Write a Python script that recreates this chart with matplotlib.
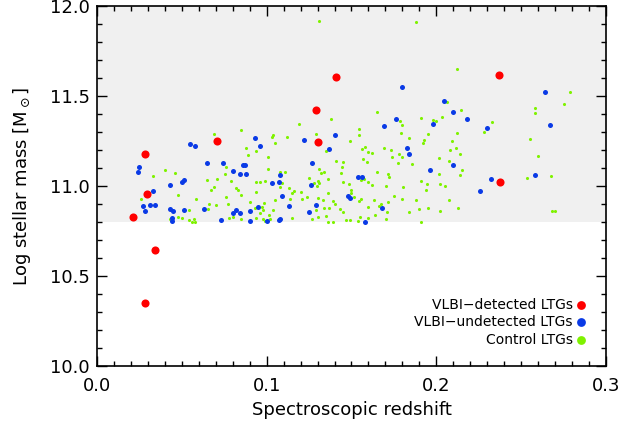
import matplotlib
matplotlib.use("Agg")
import matplotlib.pyplot as plt
from matplotlib.ticker import MultipleLocator

# ------------------------------------------------------------
# Data
# ------------------------------------------------------------

det_z = [0.021, 0.028, 0.0295, 0.0285, 0.034, 0.0705, 0.129, 0.130, 0.141, 0.237, 0.2375]
det_m = [10.83, 11.18, 10.955, 10.352, 10.646, 11.25, 11.424, 11.246, 11.606, 11.618, 11.024]

undet_z = [0.055, 0.058, 0.065, 0.074, 0.025, 0.024, 0.051, 0.050, 0.043, 0.033,
           0.031, 0.034, 0.027, 0.028, 0.043, 0.045, 0.051, 0.063, 0.044, 0.044,
           0.073, 0.093, 0.096, 0.122, 0.140, 0.137, 0.127, 0.086, 0.087, 0.080,
           0.084, 0.088, 0.108, 0.103, 0.107, 0.126, 0.109, 0.148, 0.149, 0.113,
           0.095, 0.129, 0.082, 0.080, 0.084, 0.090, 0.125, 0.090, 0.100, 0.107,
           0.108, 0.169, 0.198, 0.218, 0.183, 0.184, 0.210, 0.196, 0.154, 0.156,
           0.226, 0.168, 0.158, 0.230, 0.267, 0.232, 0.258, 0.180, 0.264, 0.2045,
           0.210, 0.176]
undet_m = [11.233, 11.224, 11.126, 11.126, 11.104, 11.076, 11.033, 11.020, 11.006, 10.970,
           10.896, 10.892, 10.887, 10.861, 10.874, 10.861, 10.867, 10.870, 10.820, 10.806,
           10.813, 11.268, 11.224, 11.256, 11.283, 11.207, 11.126, 11.118, 11.118, 11.085,
           11.065, 11.068, 11.061, 11.018, 11.022, 11.007, 10.944, 10.944, 10.931, 10.887,
           10.881, 10.896, 10.867, 10.848, 10.848, 10.859, 10.856, 10.806, 10.807, 10.813,
           10.815, 11.331, 11.344, 11.370, 11.209, 11.180, 11.117, 11.087, 11.048, 11.048,
           10.972, 10.878, 10.802, 11.322, 11.337, 11.039, 11.061, 11.548, 11.520, 11.474,
           11.409, 11.370]

ctrl_z = [0.069, 0.076, 0.040, 0.046, 0.033, 0.065, 0.071, 0.069, 0.067, 0.048,
          0.0585, 0.026, 0.076, 0.066, 0.070, 0.0655, 0.054, 0.048, 0.050, 0.043,
          0.054, 0.057, 0.056, 0.058,
          0.119, 0.085, 0.1035, 0.103, 0.112, 0.129, 0.105, 0.149, 0.088, 0.094,
          0.135, 0.089, 0.101, 0.141, 0.145, 0.1445, 0.101, 0.131, 0.132, 0.134,
          0.108, 0.111, 0.144, 0.0755, 0.079, 0.094, 0.096, 0.099, 0.109, 0.125,
          0.130, 0.128, 0.131, 0.1295, 0.136, 0.145, 0.1485, 0.082, 0.083, 0.108,
          0.113, 0.116, 0.115, 0.120, 0.0935, 0.085, 0.1495, 0.150, 0.136, 0.124,
          0.121, 0.130, 0.133, 0.139, 0.105, 0.114, 0.090, 0.0985, 0.097, 0.077,
          0.140, 0.1335, 0.137, 0.143, 0.145, 0.129, 0.093, 0.098, 0.096, 0.1035,
          0.1015, 0.094, 0.098, 0.078, 0.080, 0.085, 0.115, 0.127, 0.130, 0.135,
          0.136, 0.139, 0.1465, 0.149, 0.102, 0.099,
          0.1546, 0.1546, 0.1795, 0.179, 0.184, 0.195, 0.1925, 0.192, 0.209, 0.212,
          0.158, 0.156, 0.1595, 0.162, 0.169, 0.173, 0.178, 0.1795, 0.174, 0.208,
          0.2115, 0.214, 0.157, 0.159, 0.1775, 0.1855, 0.2015, 0.2075, 0.215, 0.214,
          0.165, 0.1715, 0.172, 0.2015, 0.1555, 0.1575, 0.160, 0.191, 0.1945, 0.202,
          0.205, 0.162, 0.1705, 0.194, 0.1805, 0.1515, 0.175, 0.1555, 0.1545, 0.163,
          0.180, 0.188, 0.2075, 0.1675, 0.166, 0.1715, 0.160, 0.195, 0.190, 0.213,
          0.171, 0.184, 0.202, 0.164, 0.155, 0.1595, 0.1705, 0.154, 0.191,
          0.233, 0.228, 0.255, 0.260, 0.2535, 0.2675, 0.268, 0.270,
          0.131, 0.138, 0.188, 0.212, 0.279, 0.2755, 0.206, 0.2145, 0.165, 0.258,
          0.258, 0.1785, 0.191, 0.198, 0.200, 0.2035]
ctrl_m = [11.287, 11.106, 11.090, 11.070, 11.056, 11.031, 11.039, 10.996, 10.980, 10.952,
          10.930, 10.926, 10.937, 10.900, 10.893, 10.872, 10.867, 10.830, 10.824, 10.818,
          10.811, 10.818, 10.800, 10.800,
          11.344, 11.309, 11.283, 11.270, 11.274, 11.290, 11.241, 11.248, 11.211, 11.194,
          11.194, 11.170, 11.159, 11.141, 11.132, 11.106, 11.093, 11.093, 11.074, 11.079,
          11.079, 11.079, 11.070, 11.067, 11.026, 11.024, 11.024, 11.028, 11.018, 11.046,
          11.030, 11.018, 11.015, 11.002, 11.040, 11.022, 11.009, 10.989, 10.978, 10.996,
          10.987, 10.974, 10.959, 10.967, 10.967, 10.950, 10.980, 10.959, 10.961, 10.937,
          10.926, 10.931, 10.922, 10.918, 10.922, 10.926, 10.911, 10.904, 10.885, 10.902,
          10.898, 10.876, 10.876, 10.874, 10.856, 10.867, 10.876, 10.867, 10.852, 10.867,
          10.839, 10.820, 10.818, 10.820, 10.830, 10.815, 10.822, 10.815, 10.826, 10.835,
          10.800, 10.800, 10.811, 10.811, 10.815, 10.807,
          11.315, 11.285, 11.339, 11.296, 11.268, 11.287, 11.256, 11.239, 11.252, 11.292,
          11.218, 11.206, 11.187, 11.181, 11.209, 11.202, 11.176, 11.163, 11.161, 11.200,
          11.211, 11.178, 11.150, 11.133, 11.126, 11.124, 11.154, 11.137, 11.087, 11.061,
          11.078, 11.067, 11.052, 11.067, 11.033, 11.037, 11.024, 11.030, 11.009, 11.009,
          10.998, 11.004, 11.002, 10.980, 10.993, 10.941, 10.943, 10.930, 10.917, 10.924,
          10.930, 10.922, 10.922, 10.902, 10.891, 10.911, 10.883, 10.880, 10.870, 10.878,
          10.854, 10.857, 10.859, 10.839, 10.828, 10.824, 10.817, 10.804, 10.802,
          11.357, 11.300, 11.259, 11.168, 11.046, 11.054, 10.863, 10.861,
          11.917, 11.370, 11.909, 11.652, 11.520, 11.454, 11.465, 11.422, 11.409, 11.431,
          11.406, 11.363, 11.380, 11.368, 11.361, 11.381]

labels = ["VLBI\u2212detected LTGs", "VLBI\u2212undetected LTGs", "Control LTGs"]

# ------------------------------------------------------------
# Plot
# ------------------------------------------------------------

fig = plt.figure(figsize=(6.23, 4.34), dpi=100)
ax = fig.add_axes([0.1557, 0.1567, 0.817, 0.8295])

ax.axhspan(10.8, 12.0, color="#f0f0f0", zorder=0, lw=0)

ax.scatter(ctrl_z, ctrl_m, s=5, color="#7ff200", lw=0, zorder=2, label=labels[2])
ax.scatter(undet_z, undet_m, s=13, color="#0a3ae6", lw=0, zorder=3, label=labels[1])
ax.scatter(det_z, det_m, s=34, color="#ff0000", lw=0, zorder=4, label=labels[0])

ax.set_xlim(0.0, 0.3)
ax.set_ylim(10.0, 12.0)
ax.xaxis.set_major_locator(MultipleLocator(0.1))
ax.xaxis.set_minor_locator(MultipleLocator(0.01))
ax.yaxis.set_major_locator(MultipleLocator(0.5))
ax.yaxis.set_minor_locator(MultipleLocator(0.1))
ax.xaxis.set_major_formatter(plt.FuncFormatter(lambda v, p: f"{v:.1f}"))
ax.yaxis.set_major_formatter(plt.FuncFormatter(lambda v, p: f"{v:.1f}"))

ax.tick_params(which="both", direction="in", top=True, right=True, width=1.0,
               labelsize=13)
ax.tick_params(axis="x", pad=8)
ax.tick_params(axis="y", pad=5)
ax.tick_params(which="major", length=7)
ax.tick_params(which="minor", length=3.6)
for sp in ax.spines.values():
    sp.set_linewidth(1.2)

ax.set_xlabel("Spectroscopic redshift", fontsize=13)
ax.set_ylabel(r"Log stellar mass [M$_\odot$]", fontsize=13, labelpad=12)

handles, labs = ax.get_legend_handles_labels()
order = [2, 1, 0]
leg = ax.legend([handles[i] for i in order], [labs[i] for i in order],
                loc="lower right", frameon=False, markerfirst=False,
                fontsize=10, handletextpad=0.2, labelspacing=0.25,
                borderaxespad=1.0, handlelength=0.8, markerscale=1.0)
for h in leg.legend_handles:
    h.set_sizes([40])

fig.savefig("out.png", dpi=100)
